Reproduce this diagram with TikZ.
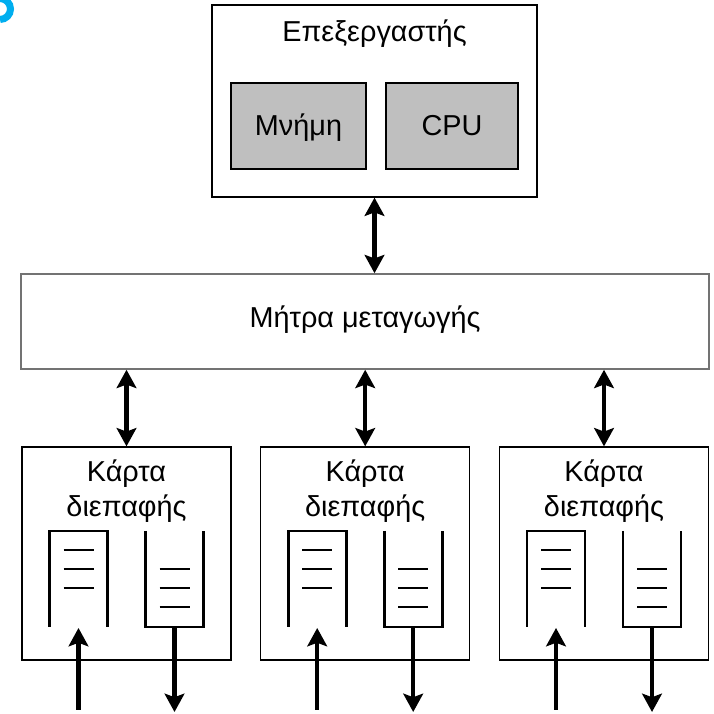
\documentclass[tikz,border=0pt]{standalone}
\usepackage{fontspec}
\setmainfont{Liberation Sans}
\usetikzlibrary{arrows.meta, positioning, calc}
\definecolor{frag}{RGB}{0,174,239}

\begin{document}
\begin{tikzpicture}[
    >={Stealth[length=13pt, width=14pt, inset=2.5pt]}, % 实心箭头
    every node/.style={font=\fontsize{20.5}{24}\selectfont},
    box/.style={draw=black, line width=0.9pt, inner sep=0pt},   % 外框
    unit/.style={draw=black, fill=black!25, line width=1.3pt, inner sep=0pt,
                 text height=14pt, text depth=0pt},              % 灰色部件
    bus/.style={<->, line width=3pt},                            % 双向连线
    io/.style={->, line width=3pt},                              % 输入输出
    queue/.style={black, line width=1.9pt},                      % 队列外形
    slot/.style={black, line width=1.1pt},                       % 队列格
    label/.style={anchor=base, inner sep=0pt}                    % 标题文字
]
    \useasboundingbox (0,0) rectangle (17.85,17.85);

    % 0. 左上角残片
    \begin{scope}
        \clip (0,0) rectangle (17.85,17.85);
        \draw[frag, line width=5pt] (0,17.8875) arc[start angle=90, end angle=-90, radius=0.2625];
    \end{scope}

    % 1. 处理器
    \node[box, minimum width=8.125cm, minimum height=4.8cm] (proc) at (9.3625,15.325) {};
    \node[label] (proct) at (9.3625,16.8) {Επεξεργαστής};
    \node[unit, minimum width=3.375cm, minimum height=2.15cm] (mem) at (7.4625,14.7) {Μνήμη};
    \node[unit, minimum width=3.3cm, minimum height=2.15cm] (cpu) at (11.3,14.7) {CPU};

    % 2. 交换矩阵
    \node[box, draw=black!55, line width=1.1pt, minimum width=17.2cm, minimum height=2.375cm,
          text height=14pt, text depth=4.8pt] (switch) at (9.125,9.8125) {Μήτρα μεταγωγής};
    \draw[bus] (proc.south) -- (proc.south |- switch.north);

    % 3. 接口卡 + 队列
    \foreach \i/\x in {1/3.1625, 2/9.13, 3/15.1} {
        \node[box, minimum width=5.225cm, minimum height=5.325cm] (card\i) at (\x,4.0125) {};
        \node[label] (cardt\i) at (\x,5.8) {Κάρτα};
        \node[label] (cardb\i) at (\x,4.925) {διεπαφής};
        \draw[bus] (card\i.north) -- (card\i.north |- switch.south);
        % 输入队列(上封口)
        \draw[queue] ({\x-1.925},2.175) -- ({\x-1.925},4.575) -- ({\x-0.475},4.575) -- ({\x-0.475},2.175);
        \foreach \y in {4.1,3.625,3.15}
            \draw[slot] ({\x-1.575},\y) -- ({\x-0.825},\y);
        % 输出队列(下封口)
        \draw[queue] ({\x+0.475},4.575) -- ({\x+0.475},2.175) -- ({\x+1.925},2.175) -- ({\x+1.925},4.575);
        \foreach \y in {3.625,3.15,2.675}
            \draw[slot] ({\x+0.825},\y) -- ({\x+1.575},\y);
        % 箭头
        \coordinate (src\i) at ({\x-1.2},0.1);
        \coordinate (qi\i) at ({\x-1.2},2.15);
        \coordinate (qo\i) at ({\x+1.2},2.175);
        \coordinate (dst\i) at ({\x+1.2},0.05);
        \draw[io] (src\i) -- (qi\i);
        \draw[io] (qo\i) -- (dst\i);
    }
\end{tikzpicture}
\end{document}
